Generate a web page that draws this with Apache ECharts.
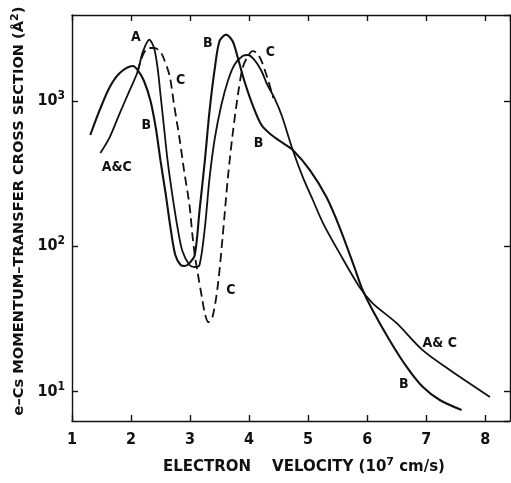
<!DOCTYPE html>
<html>
<head>
<meta charset="utf-8">
<script src="https://cdn.jsdelivr.net/npm/echarts@6/dist/echarts.min.js"></script>
<style>
  html, body { margin: 0; padding: 0; background: #fff; }
  #chart { width: 511px; height: 483px; }
</style>
</head>
<body>
<div id="chart"></div>
<script>
// curve B (thick solid): [velocity 1e7 cm/s, cross section A^2]
const curveB = [
  [1.31, 582], [1.47, 865], [1.64, 1245], [1.81, 1553], [2.03, 1734], [2.11, 1630],
  [2.22, 1368], [2.33, 997], [2.42, 650], [2.50, 386], [2.59, 225], [2.67, 133],
  [2.75, 87], [2.84, 74.3], [2.91, 73.1], [2.99, 76.6], [3.08, 87], [3.16, 175],
  [3.25, 386], [3.33, 851], [3.42, 1682], [3.50, 2576], [3.61, 2851], [3.72, 2576],
  [3.81, 1968], [3.92, 1368], [4.06, 935], [4.21, 682], [4.38, 582], [4.57, 513],
  [4.74, 459], [5.03, 334], [5.31, 218], [5.53, 136], [5.79, 70.6], [5.91, 51.6],
  [6.09, 36.4], [6.38, 22.6], [6.67, 14.8], [6.94, 10.8], [7.23, 8.77], [7.60, 7.48]
]
// curve A (solid, also C below 2.1 and above 4.4)
const curveA = [
  [1.48, 437], [1.64, 563], [1.81, 824], [1.98, 1187], [2.11, 1578], [2.20, 2168],
  [2.31, 2630], [2.39, 2307], [2.45, 1682], [2.50, 1096], [2.56, 650], [2.62, 386],
  [2.70, 225], [2.79, 133], [2.87, 92.7], [2.99, 74.3], [3.08, 72], [3.16, 74.3],
  [3.25, 133], [3.33, 294], [3.42, 555], [3.53, 935], [3.64, 1368], [3.75, 1763],
  [3.89, 2031], [3.98, 2065], [4.09, 1910], [4.21, 1603], [4.31, 1285], [4.43, 1045],
  [4.55, 798], [4.74, 459], [4.91, 299], [5.08, 208], [5.25, 145], [5.53, 90],
  [5.87, 52.5], [6.09, 40.7], [6.50, 29.6], [6.94, 19.3], [7.40, 14.1], [8.08, 9.2]
]
// curve C (dashed), where it departs from A
const curveC = [
  [2.11, 1578], [2.20, 2065], [2.30, 2307], [2.39, 2307], [2.47, 2234], [2.53, 2065],
  [2.65, 1503], [2.73, 935], [2.82, 555], [2.90, 329], [2.99, 192], [3.04, 119],
  [3.08, 87], [3.13, 65.4], [3.20, 44.7], [3.25, 34.7], [3.31, 30.1], [3.38, 32.6],
  [3.47, 53.7], [3.55, 114], [3.64, 294], [3.72, 582], [3.81, 1096], [3.89, 1682],
  [3.98, 2031], [4.06, 2198], [4.13, 2133], [4.21, 1879], [4.31, 1436], [4.41, 1045]
]
// curve tags placed in data space
const tags = [
  [2.08, 2740, 'A'], [2.84, 1390, 'C'], [2.26, 681, 'B'], [1.76, 351, 'A&C'],
  [3.30, 2500, 'B'], [4.36, 2168, 'C'], [4.16, 513, 'B'], [3.69, 50, 'C'],
  [7.23, 21.5, 'A& C'], [6.62, 11.2, 'B']
]
const X_MIN = 1, X_MAX = 8.42
const Y_MIN = 6.29, Y_MAX = 3890

const FONT = '"DejaVu Sans Condensed", "DejaVu Sans", sans-serif'
const WIDE = '"DejaVu Sans", sans-serif'
const INK = '#111'
const LINE = { color: INK, width: 1.4 }

function supLabel(v) {
  const e = Math.round(Math.log10(v))
  return '{b|10}{s|' + e + '}'
}
const SUP_RICH = {
  b: { fontFamily: FONT, fontWeight: 'bold', fontSize: 16, color: INK, lineHeight: 22 },
  s: { fontFamily: FONT, fontWeight: 'bold', fontSize: 12, color: INK, lineHeight: 14, verticalAlign: 'top' }
}

const chart = echarts.init(document.getElementById('chart'))
const xBase = {
  type: 'value', min: X_MIN, max: X_MAX, interval: 1,
  axisLine: { show: true, lineStyle: LINE },
  axisTick: { show: true, inside: true, length: 6, lineStyle: LINE },
  splitLine: { show: false }
}
const yBase = {
  type: 'log', logBase: 10, min: Y_MIN, max: Y_MAX,
  axisLine: { show: true, lineStyle: LINE },
  axisTick: { show: true, inside: true, length: 6, lineStyle: LINE },
  splitLine: { show: false }
}
const curve = (data, width, type) => ({
  type: 'line', data, smooth: 0.3, showSymbol: false, silent: true,
  lineStyle: { color: INK, width, type: type || 'solid' }
})

chart.setOption({
  animation: false,
  backgroundColor: '#fff',
  grid: { left: 72, right: 1, top: 15, bottom: 62, outerBoundsMode: 'none' },
  xAxis: [
    {
      ...xBase, position: 'bottom',
      axisLabel: {
        showMaxLabel: false, margin: 11,
        fontFamily: FONT, fontWeight: 'bold', fontSize: 16, color: INK
      },
      name: '{t|ELECTRON    VELOCITY (10}{s|7}{t| cm/s)}',
      nameLocation: 'middle', nameGap: 36,
      nameTextStyle: {
        padding: [0, 0, 0, 26],
        rich: {
          t: { fontFamily: WIDE, fontWeight: 'bold', fontSize: 15, color: INK, lineHeight: 20 },
          s: { fontFamily: WIDE, fontWeight: 'bold', fontSize: 11, color: INK, lineHeight: 12, verticalAlign: 'top' }
        }
      }
    },
    { ...xBase, position: 'top', axisLabel: { show: false } }
  ],
  yAxis: [
    {
      ...yBase, position: 'left',
      axisLabel: {
        showMinLabel: false, showMaxLabel: false, margin: 7,
        formatter: supLabel, rich: SUP_RICH
      },
      name: '{t|e–Cs MOMENTUM–TRANSFER CROSS SECTION (Å}{s|2}{t|)}',
      nameLocation: 'middle', nameGap: 42, nameRotate: 90,
      nameTextStyle: {
        padding: [0, 0, 0, 14],
        rich: {
          t: { fontFamily: WIDE, fontWeight: 'bold', fontSize: 14.6, color: INK, lineHeight: 18 },
          s: { fontFamily: WIDE, fontWeight: 'bold', fontSize: 11, color: INK, lineHeight: 12, verticalAlign: 'top' }
        }
      }
    },
    { ...yBase, position: 'right', axisLabel: { show: false } }
  ],
  series: [
    curve(curveB, 2.1),
    curve(curveA, 1.8),
    curve(curveC, 1.8, [9, 5]),
    {
      type: 'scatter', data: tags, symbolSize: 1, silent: true,
      itemStyle: { color: 'rgba(0,0,0,0)', opacity: 1 },
      label: {
        show: true, position: 'inside', formatter: p => p.value[2],
        fontFamily: FONT, fontWeight: 'bold', fontSize: 14, color: INK
      }
    }
  ]
})
window.addEventListener('resize', () => chart.resize())
</script>
</body>
</html>
